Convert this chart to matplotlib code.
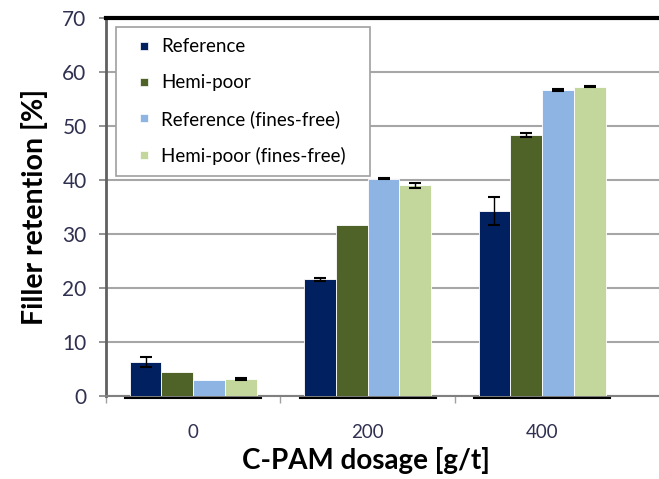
import matplotlib
matplotlib.use("Agg")
import matplotlib.pyplot as plt
from matplotlib.lines import Line2D
import numpy as np

# C-PAM dosage groups
dosages = ["0", "200", "400"]
series_names = ["Reference", "Hemi-poor", "Reference (fines-free)", "Hemi-poor (fines-free)"]
colors = ["#002060", "#4F6228", "#8EB4E3", "#C3D69B"]

reference = [6.3, 21.6, 34.2]
hemi_poor = [4.4, 31.7, 48.3]
reference_ff = [2.9, 40.2, 56.7]
hemi_poor_ff = [3.2, 39.0, 57.3]

reference_err = [0.9, 0.3, 2.6]
hemi_poor_err = [0.0, 0.0, 0.4]
reference_ff_err = [0.0, 0.1, 0.2]
hemi_poor_ff_err = [0.2, 0.4, 0.1]

values = [reference, hemi_poor, reference_ff, hemi_poor_ff]
errors = [reference_err, hemi_poor_err, reference_ff_err, hemi_poor_ff_err]

plt.rcParams['font.family'] = ['Lato', 'DejaVu Sans']

fig = plt.figure(figsize=(6.59, 4.79), dpi=100)
ax = fig.add_axes([106 / 659, 1 - 396 / 479, 553 / 659, 378 / 479])

x = np.arange(len(dosages))
bar_w = 0.182
offsets = (np.arange(4) - 1.5) * bar_w

for i in range(4):
    err = [e if e > 0 else np.nan for e in errors[i]]
    ax.bar(x + offsets[i], values[i], bar_w, color=colors[i], edgecolor='white',
           linewidth=0.6, zorder=3)
    ax.errorbar(x + offsets[i], values[i], yerr=err, fmt='none', ecolor='black',
                elinewidth=1, capsize=4, capthick=1.5, zorder=4)

# dark segments under each group
for xi in x:
    ax.plot([xi - 0.39, xi + 0.39], [-0.4, -0.4], color='black', lw=1.5,
            clip_on=False, zorder=5)

ax.set_xlim(-0.5, 2.67)
ax.set_ylim(0, 70)
ax.set_yticks(np.arange(0, 71, 10))
ax.set_xticks(x)
ax.set_xticklabels(dosages)
ax.set_xticks([-0.5, 0.5, 1.5], minor=True)

ax.grid(axis='y', color='#a6a6a6', linewidth=1.5, zorder=0)
ax.set_axisbelow(True)

ax.spines['right'].set_visible(False)
ax.spines['top'].set_color('black')
ax.spines['top'].set_linewidth(3)
ax.spines['left'].set_color('#606060')
ax.spines['left'].set_linewidth(2)
ax.spines['bottom'].set_color('#808080')
ax.spines['bottom'].set_linewidth(1.5)

ax.tick_params(axis='y', direction='out', length=5, width=1.2, color='#808080',
               labelsize=15, labelcolor='#303050', pad=9)
ax.tick_params(axis='x', which='major', length=0, labelsize=13.5,
               labelcolor='#303050', pad=20)
ax.tick_params(axis='x', which='minor', direction='out', length=5, width=1,
               color='#a0a0a0')

ax.set_xlabel('C-PAM dosage [g/t]', fontsize=20, fontweight='bold', labelpad=2)
ax.xaxis.set_label_coords(0.47, -0.135)
ax.set_ylabel('Filler retention [%]', fontsize=20.5, fontweight='bold', labelpad=10)

handles = [Line2D([], [], linestyle='none', marker='s', markersize=5.5,
                  markerfacecolor=c, markeredgecolor='white', markeredgewidth=0.5)
           for c in colors]
leg = ax.legend(handles, series_names, loc='upper left',
                bbox_to_anchor=(0.018, 0.576, 0.459, 0.4), mode='expand',
                borderaxespad=0, fancybox=False, frameon=True, fontsize=13.5,
                labelspacing=1.0, handlelength=1.8, handletextpad=0.0,
                borderpad=0.6, framealpha=1)
leg.get_frame().set_edgecolor('#a0a0a0')
leg.get_frame().set_linewidth(1.2)
leg.set_zorder(10)

fig.savefig('out.png', dpi=100)
